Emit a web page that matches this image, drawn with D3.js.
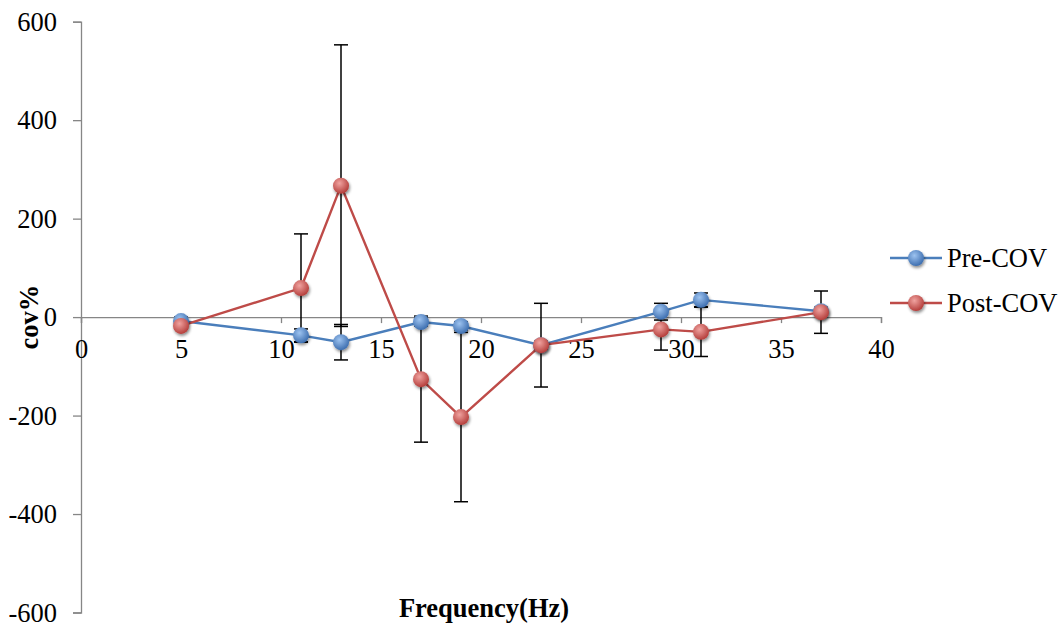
<!DOCTYPE html>
<html><head><meta charset="utf-8">
<script src="https://cdn.jsdelivr.net/npm/d3@7"></script>
<style>body{margin:0;background:#fff}svg{display:block}</style>
</head><body>
<script>
const freq = [5, 11, 13, 17, 19, 23, 29, 31, 37];
const preCOV = [-8, -37, -51, -10, -18, -57, 11, 35, 12];
const preErr = [8, 13, 36, 8, 8, 8, 17, 14, 8];
const postCOV = [-18, 59, 267, -126, -203, -57, -25, -30, 10];
const postErr = [6, 110, 286, 128, 172, 85, 42, 50, 43];
const xTicks = [0, 5, 10, 15, 20, 25, 30, 35, 40];
const yTicks = [-600, -400, -200, 0, 200, 400, 600];
const seriesNames = ["Pre-COV", "Post-COV"];
const seriesColors = ["#4A7EBB", "#BE4B48"];
const markerLight = ["#9DC3F0", "#F0A3A0"];
const markerDark = ["#3E6FB0", "#B53F3C"];

const W = 1063, H = 628;
const svg = d3.select("body").append("svg").attr("width", W).attr("height", H);
const x = d3.scaleLinear().domain([0, 40]).range([81, 881]);
const y = d3.scaleLinear().domain([-600, 600]).range([612.5, 21.7]);
const font = "'Liberation Serif','Times New Roman',serif";
const FS = 26.5;

const defs = svg.append("defs");
seriesNames.forEach((n, i) => {
  const g = defs.append("radialGradient").attr("id", "g" + i)
    .attr("cx", "40%").attr("cy", "35%").attr("r", "65%");
  g.append("stop").attr("offset", "0%").attr("stop-color", markerLight[i]);
  g.append("stop").attr("offset", "100%").attr("stop-color", markerDark[i]);
});
const f = defs.append("filter").attr("id", "sh").attr("x", "-50%").attr("y", "-50%").attr("width", "200%").attr("height", "200%");
f.append("feGaussianBlur").attr("in", "SourceAlpha").attr("stdDeviation", 1.5).attr("result", "b");
f.append("feOffset").attr("in", "b").attr("dx", 1).attr("dy", 1.5).attr("result", "o");
f.append("feComponentTransfer").attr("in", "o").attr("result", "o2")
  .append("feFuncA").attr("type", "linear").attr("slope", 0.45);
const m = f.append("feMerge");
m.append("feMergeNode").attr("in", "o2");
m.append("feMergeNode").attr("in", "SourceGraphic");

const fmt = d => String(d);

// y axis
const yAxis = d3.axisLeft(y).tickValues(yTicks).tickSize(8).tickFormat(fmt);
const ya = svg.append("g").attr("transform", `translate(${x(0)},0)`).call(yAxis);
ya.select(".domain").attr("stroke", "#868686").attr("stroke-width", 1.3);
ya.selectAll(".tick line").attr("stroke", "#868686").attr("stroke-width", 1.3);
ya.selectAll(".tick text").attr("font-family", font).attr("font-size", FS).attr("fill", "#000")
  .attr("x", -24).attr("dy", "0.33em");

// x axis at y=0
const xAxis = d3.axisBottom(x).tickValues(xTicks).tickSize(6).tickFormat(fmt);
const xa = svg.append("g").attr("transform", `translate(0,${y(0)})`).call(xAxis);
xa.select(".domain").attr("stroke", "#868686").attr("stroke-width", 1.3);
xa.selectAll(".tick line").attr("stroke", "#868686").attr("stroke-width", 1.3);
xa.selectAll(".tick text").attr("font-family", font).attr("font-size", FS).attr("fill", "#000")
  .attr("y", 41).attr("dy", 0);

// axis titles
svg.append("text").attr("x", 484).attr("y", 617).attr("text-anchor", "middle")
  .attr("font-family", font).attr("font-weight", "bold").attr("font-size", FS).text("Frequency(Hz)");
svg.append("text").attr("transform", `translate(38,${y(0)}) rotate(-90)`).attr("text-anchor", "middle")
  .attr("font-family", font).attr("font-weight", "bold").attr("font-size", FS).text("cov%");

const series = [
  { vals: preCOV, err: preErr },
  { vals: postCOV, err: postErr }
];
const line = d3.line().x(d => x(d[0])).y(d => y(d[1]));

// lines
series.forEach((s, i) => {
  svg.append("path").datum(freq.map((f, j) => [f, s.vals[j]]))
    .attr("d", line).attr("fill", "none").attr("stroke", seriesColors[i]).attr("stroke-width", 2.4);
});
// error bars
series.forEach((s, i) => {
  const g = svg.append("g").attr("stroke", "#000").attr("stroke-width", 1.5);
  freq.forEach((f, j) => {
    const hi = s.vals[j] + s.err[j], lo = s.vals[j] - s.err[j];
    g.append("line").attr("x1", x(f)).attr("x2", x(f)).attr("y1", y(hi)).attr("y2", y(lo));
    g.append("line").attr("x1", x(f) - 7).attr("x2", x(f) + 7).attr("y1", y(hi)).attr("y2", y(hi));
    g.append("line").attr("x1", x(f) - 7).attr("x2", x(f) + 7).attr("y1", y(lo)).attr("y2", y(lo));
  });
});
// markers
series.forEach((s, i) => {
  svg.append("g").selectAll("circle").data(freq.map((f, j) => [f, s.vals[j]])).join("circle")
    .attr("cx", d => x(d[0])).attr("cy", d => y(d[1])).attr("r", 8)
    .attr("fill", `url(#g${i})`).attr("filter", "url(#sh)");
});

// legend
const legY = [258, 303];
seriesNames.forEach((n, i) => {
  const g = svg.append("g");
  g.append("line").attr("x1", 890).attr("x2", 942).attr("y1", legY[i]).attr("y2", legY[i])
    .attr("stroke", seriesColors[i]).attr("stroke-width", 2.4);
  g.append("circle").attr("cx", 916).attr("cy", legY[i]).attr("r", 8)
    .attr("fill", `url(#g${i})`).attr("filter", "url(#sh)");
  g.append("text").attr("x", 947).attr("y", legY[i]).attr("dy", "0.33em")
    .attr("font-family", font).attr("font-size", FS).text(n);
});
</script>
</body></html>
